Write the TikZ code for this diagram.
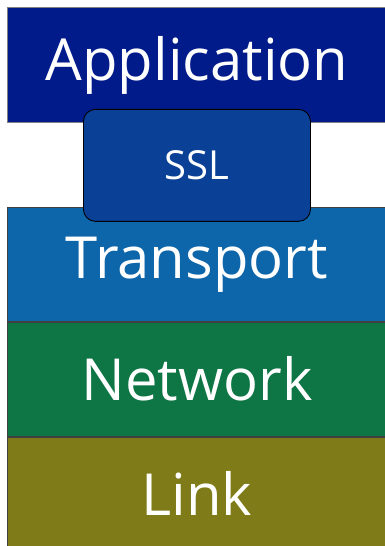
\documentclass[tikz,border=0pt]{standalone}
\usepackage{fontspec}
\setmainfont{Open Sans}
\usetikzlibrary{positioning}
\definecolor{appblue}{RGB}{2,27,138}
\definecolor{sslblue}{RGB}{10,65,150}
\definecolor{transblue}{RGB}{13,101,170}
\definecolor{netgreen}{RGB}{14,117,69}
\definecolor{linkolive}{RGB}{127,123,24}

\begin{document}
\begin{tikzpicture}[x=1pt,y=-1pt]

	\tikzset{LayerStyle/.style = {shape = rectangle,
			draw         = black!75,
			line width   = 0.9pt,
			text         = white,
			minimum width  = 379pt,
			minimum height = 114pt,
			inner sep    = 0pt,
			font         = \fontsize{58}{58}\selectfont,
			text height  = 42pt,
			text depth   = 0pt}}

	\tikzset{SslStyle/.style = {shape = rectangle,
			rounded corners = 12pt,
			draw         = black,
			line width   = 0.9pt,
			fill         = sslblue,
			text         = white,
			minimum width  = 227pt,
			minimum height = 112pt,
			inner sep    = 0pt,
			font         = \fontsize{40}{40}\selectfont}}

	\useasboundingbox (0,0) rectangle (384,546);

	\node[LayerStyle, fill=appblue, draw=gray, minimum height=115pt, anchor=north west](app) at (7,7) {\raisebox{5pt}{Application}};
	\node[LayerStyle, fill=transblue, below=84pt of app](transport) {\raisebox{7pt}{Transport}};
	\node[LayerStyle, fill=netgreen, below=0pt of transport](network) {Network};
	\node[LayerStyle, fill=linkolive, below=0pt of network](link) {Link};

	\node[SslStyle, below=-14pt of app](ssl) {SSL};

\end{tikzpicture}
\end{document}
